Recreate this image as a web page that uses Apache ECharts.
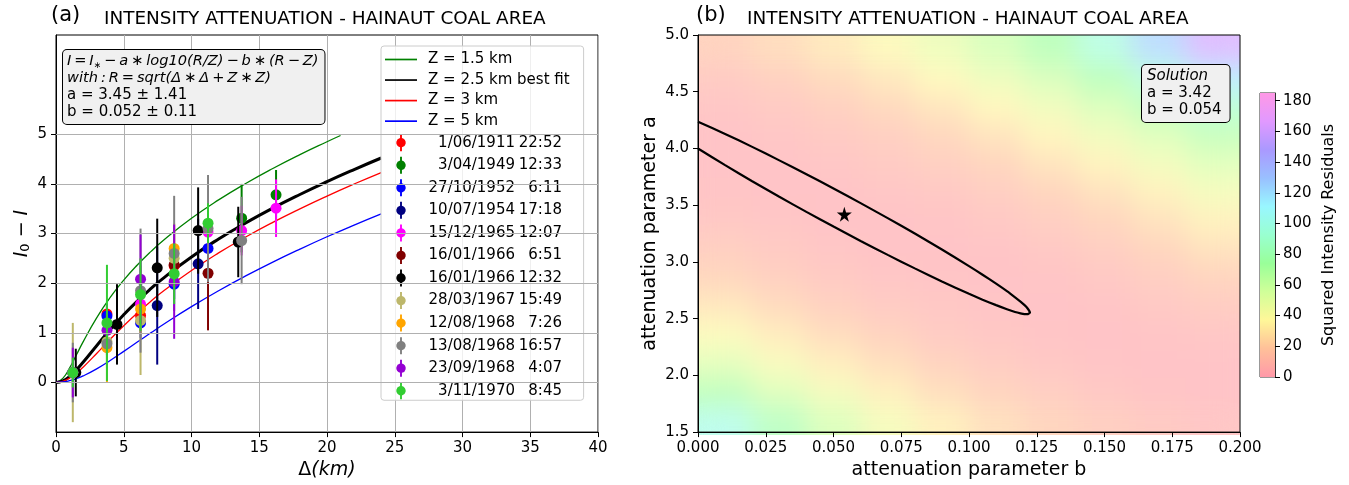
<!DOCTYPE html>
<html>
<head>
<meta charset="utf-8">
<script src="https://cdn.jsdelivr.net/npm/echarts@6/dist/echarts.min.js"></script>
<style>
  html, body { margin: 0; padding: 0; background: #ffffff; }
  #wrap { position: relative; width: 1349px; height: 485px; overflow: hidden; }
  #heat { position: absolute; filter: url(#smooth); }
  #main { position: absolute; left: 0; top: 0; width: 1349px; height: 485px; }
</style>
</head>
<body>
<!-- soft interpolation of the residual field, edges kept opaque -->
<svg width="0" height="0" style="position:absolute">
  <defs>
    <filter id="smooth" x="0" y="0" width="1" height="1" color-interpolation-filters="sRGB">
      <feGaussianBlur stdDeviation="13" edgeMode="duplicate"/>
      <feComponentTransfer><feFuncA type="table" tableValues="1 1"/></feComponentTransfer>
    </filter>
  </defs>
</svg>
<div id="wrap">
  <div id="heat"></div>
  <div id="main"></div>
</div>
<script>
const FONT = 'DejaVu Sans';

// ---------- panel (a): intensity decay with distance ----------
// model curves I0 - I (a = 3.45, b = 0.052) for four focal depths
const curveDist    = [0, 0.5, 1, 1.5, 2, 3, 4, 5, 6, 7, 8, 10, 12, 14, 16, 18, 20, 22, 24];
const curveDistZ15 = [0, 0.5, 1, 1.5, 2, 3, 4, 5, 6, 7, 8, 10, 12, 14, 16, 18, 20, 21];
const curveZ15 = [0, 0.083, 0.291, 0.552, 0.817, 1.302, 1.712, 2.062, 2.366, 2.636, 2.879, 3.307, 3.678, 4.009, 4.311, 4.590, 4.850, 4.975];
const curveZ25 = [0, 0.032, 0.121, 0.252, 0.407, 0.741, 1.067, 1.366, 1.640, 1.889, 2.118, 2.529, 2.890, 3.214, 3.512, 3.787, 4.045, 4.289, 4.522];
const curveZ3  = [0, 0.023, 0.087, 0.186, 0.307, 0.584, 0.869, 1.143, 1.399, 1.636, 1.856, 2.255, 2.610, 2.930, 3.225, 3.498, 3.755, 3.998, 4.229];
const curveZ5  = [0, 0.009, 0.035, 0.076, 0.131, 0.274, 0.444, 0.627, 0.814, 1.000, 1.182, 1.527, 1.848, 2.146, 2.424, 2.686, 2.935, 3.171, 3.397];
const curveNames  = ['Z = 1.5 km', 'Z = 2.5 km best fit', 'Z = 3 km', 'Z = 5 km'];
const curveColors = ['#008000', '#000000', '#ff0000', '#0000ff'];
const curveWidths = [1.3, 3, 1.3, 1.3];

// earthquakes
const eventDates = ['1/06/1911', '3/04/1949', '27/10/1952', '10/07/1954', '15/12/1965', '16/01/1966',
                    '16/01/1966', '28/03/1967', '12/08/1968', '13/08/1968', '23/09/1968', '3/11/1970'];
const eventTimes = ['22:52', '12:33', '6:11', '17:18', '12:07', '6:51',
                    '12:32', '15:49', '7:26', '16:57', '4:07', '8:45'];
const eventColors = ['#ff0000', '#008000', '#0000ff', '#000080', '#ff00ff', '#800000',
                     '#000000', '#bdb76b', '#ffa500', '#808080', '#9400d3', '#32cd32'];

// observations: [epicentral distance (km), I0 - I, error]
const obs1911  = [[3.76, 1.38, 0.2], [6.24, 1.35, 0.15], [8.72, 2.35, 0.2]];
const obs1949  = [[13.7, 3.31, 0.69], [16.24, 3.78, 0.5]];
const obs1952  = [[3.76, 1.34, 0.25], [6.24, 1.2, 0.3], [8.72, 1.98, 0.3], [11.22, 2.70, 0.3]];
const obs1954  = [[7.47, 1.55, 1.19], [10.49, 2.39, 0.91]];
const obs1965  = [[6.24, 1.58, 0.4], [11.22, 3.03, 0.5], [13.7, 3.06, 0.5], [16.24, 3.51, 0.58]];
const obs1966a = [[8.72, 2.37, 0.4], [11.22, 2.20, 1.15]];
const obs1966b = [[1.46, 0.2, 0.48], [4.5, 1.17, 0.81], [7.47, 2.31, 0.99], [10.49, 3.06, 0.87], [13.45, 2.83, 0.71]];
const obs1967  = [[1.24, 0.2, 1.0], [3.76, 0.82, 0.5], [6.24, 1.25, 1.1], [8.72, 2.5, 0.6]];
const obs1968a = [[3.76, 0.7, 0.7], [6.24, 1.48, 0.5], [8.72, 2.7, 0.5]];
const obs1968b = [[1.24, 0.2, 0.6], [3.76, 0.78, 0.5], [6.24, 1.85, 1.25], [8.72, 2.6, 1.16], [11.22, 3.1, 1.08], [13.7, 2.86, 0.88]];
const obs1968c = [[1.24, 0.2, 0.5], [3.76, 1.05, 0.5], [6.24, 2.08, 0.9], [8.72, 2.03, 1.15]];
const obs1970  = [[1.24, 0.2, 0.3], [3.76, 1.2, 1.17], [6.24, 1.77, 0.73], [8.72, 2.19, 0.61], [11.22, 3.21, 0.4]];
const eventObs = [obs1911, obs1949, obs1952, obs1954, obs1965, obs1966a,
                  obs1966b, obs1967, obs1968a, obs1968b, obs1968c, obs1970];

const fitA = '3.45', fitAErr = '1.41', fitB = '0.052', fitBErr = '0.11';
const yTickValues = [0, 1, 2, 3, 4, 5];

// ---------- panel (b): misfit surface ----------
const solA = 3.42, solB = 0.054;
// cell centres of the residual grid
const heatB = [0.01, 0.03, 0.05, 0.07, 0.09, 0.11, 0.13, 0.15, 0.17, 0.19];
const heatA = [1.625, 1.875, 2.125, 2.375, 2.625, 2.875, 3.125, 3.375, 3.625, 3.875, 4.125, 4.375, 4.625, 4.875];
// squared intensity residuals, one row per a value (bottom to top)
const heatRows = [
  [100, 78, 58, 43, 32, 24, 18, 13, 9, 6],
  [72, 56, 43, 32, 23, 17, 12, 8, 5, 4],
  [53, 41, 31, 23, 16, 11, 7, 5, 4, 4],
  [39, 30, 22, 16, 10, 7, 5, 4, 5, 6],
  [28, 21, 15, 10, 7, 5, 4, 5, 8, 11],
  [19, 14, 9, 6, 5, 4, 5, 8, 12, 17],
  [13, 9, 6, 4, 4, 5, 8, 12, 18, 25],
  [8, 6, 4, 4, 5, 8, 12, 18, 25, 33],
  [5, 4, 4, 6, 8, 12, 18, 25, 33, 43],
  [4, 4, 6, 9, 13, 18, 26, 34, 44, 55],
  [4, 6, 9, 13, 19, 26, 35, 45, 56, 68],
  [6, 9, 14, 20, 27, 36, 46, 58, 72, 88],
  [10, 15, 21, 28, 37, 47, 59, 74, 94, 117],
  [16, 22, 29, 38, 48, 60, 74, 96, 126, 160]
];
// confidence contour (b, a): upper branch out to the tip, lower branch back
const contourB = [0, 0.01, 0.02, 0.03, 0.04, 0.05, 0.06, 0.07, 0.08, 0.09, 0.1, 0.105, 0.11, 0.114, 0.117, 0.119, 0.1205, 0.1215, 0.1225,
                  0.1215, 0.1205, 0.119, 0.117, 0.114, 0.11, 0.105, 0.1, 0.09, 0.08, 0.07, 0.06, 0.05, 0.04, 0.03, 0.02, 0.01, 0];
const contourA = [4.236, 4.128, 4.014, 3.895, 3.773, 3.647, 3.518, 3.386, 3.250, 3.109, 2.963, 2.887, 2.808, 2.742, 2.688, 2.650, 2.619, 2.594, 2.554,
                  2.539, 2.540, 2.547, 2.559, 2.583, 2.619, 2.667, 2.719, 2.828, 2.943, 3.062, 3.185, 3.312, 3.441, 3.574, 3.711, 3.853, 4.000];

const cbarMax = 185;
const cbarTicks = [0, 20, 40, 60, 80, 100, 120, 140, 160, 180];
// rainbow ramp, pale for the colour bar and paler for the field
const cbarColors = ['#ff99a9', '#ffc099', '#fff799', '#d0ff99', '#99ff99', '#99ffd0', '#99f7ff', '#99c0ff', '#aa99ff', '#e199ff', '#ff99e6'];
const heatColors = ['#ffbfc9', '#ffd7bf', '#fffabf', '#e2ffbf', '#bfffbf', '#bfffe2', '#bffaff', '#bfd7ff', '#c9bfff', '#ecbfff', '#ffbfef'];

// ---------- layout ----------
const gridA = { left: 56, top: 35, width: 542, height: 400 };
const gridB = { left: 698, top: 35, width: 542, height: 400 };
const gridC = { left: 1260, top: 93, width: 15, height: 284 };

// ---------- residual field (separate layer under panel b) ----------
const heatEl = document.getElementById('heat');
Object.assign(heatEl.style, {
  left: gridB.left + 'px', top: gridB.top + 'px',
  width: gridB.width + 'px', height: gridB.height + 'px'
});
const heatData = [];
heatRows.forEach((row, j) => row.forEach((v, i) => heatData.push([i, j, v])));
const heatChart = echarts.init(heatEl, null, { renderer: 'canvas' });
heatChart.setOption({
  animation: false,
  grid: { left: 0, right: 0, top: 0, bottom: 0 },
  xAxis: { type: 'category', data: heatB, show: false },
  yAxis: { type: 'category', data: heatA, show: false },
  visualMap: { show: false, min: 0, max: cbarMax, inRange: { color: heatColors } },
  series: [{ type: 'heatmap', data: heatData, itemStyle: { borderWidth: 0 } }]
});

// ---------- main chart ----------
const chart = echarts.init(document.getElementById('main'), null, { renderer: 'canvas' });

const txt = { fontFamily: FONT, color: '#000' };
const errIcon = 'path://M5,0H7V4.1A5,5 0 0 1 7,13.9V18H5V13.9A5,5 0 0 1 5,4.1Z';
const lineIcon = 'path://M0,0H32V1.7H0Z';
const eventNames = eventDates.map((d, k) => d + ' ' + eventTimes[k]);
const TS = '\u2009';   // thin space used in the formula lines

function drawErrorBar(params, api) {
  const x = api.value(0), y = api.value(1), e = api.value(2);
  const top = api.coord([x, y + e]);
  const bot = api.coord([x, y - e]);
  const c = api.coord([x, y]);
  const color = api.visual('color');
  return {
    type: 'group',
    children: [
      { type: 'line', shape: { x1: top[0], y1: top[1], x2: bot[0], y2: bot[1] },
        style: { stroke: color, lineWidth: 2 } },
      { type: 'circle', shape: { cx: c[0], cy: c[1], r: 5.5 }, style: { fill: color } }
    ]
  };
}

const curveSeries = [curveZ15, curveZ25, curveZ3, curveZ5].map((vals, k) => {
  const xs = k === 0 ? curveDistZ15 : curveDist;
  return {
    type: 'line', name: curveNames[k], xAxisIndex: 0, yAxisIndex: 0,
    data: vals.map((v, i) => [xs[i], v]),
    smooth: true, symbol: 'none', z: 3,
    lineStyle: { color: curveColors[k], width: curveWidths[k] },
    itemStyle: { color: curveColors[k] }
  };
});

const eventSeries = eventObs.map((obs, k) => ({
  type: 'custom', name: eventNames[k], xAxisIndex: 0, yAxisIndex: 0,
  data: obs, encode: { x: 0, y: 1 }, z: 4,
  itemStyle: { color: eventColors[k] },
  renderItem: drawErrorBar
}));

const axisBase = {
  axisLine: { show: true, onZero: false, lineStyle: { color: '#000', width: 1 } },
  axisTick: { show: true, inside: false, length: 5, lineStyle: { color: '#000' } },
  axisLabel: Object.assign({ fontSize: 15, margin: 9 }, txt),
  splitLine: { show: false }
};

const formulaLine1 = ['I', '=', 'I'].join(TS) + '{sub|∗}{m|' + TS +
  ['−', 'a', '∗', 'log10(R/Z)', '−', 'b', '∗', '(R', '−', 'Z)'].join(TS) + '}';
const formulaLine2 = ['with', ':', 'R', '=', 'sqrt(Δ', '∗', 'Δ', '+', 'Z', '∗', 'Z)'].join(TS);

const option = {
  animation: false,
  title: [
    { text: '(a)', left: 51, top: 5, padding: 0, textStyle: Object.assign({ fontSize: 21, fontWeight: 'normal' }, txt) },
    { text: 'INTENSITY ATTENUATION - HAINAUT COAL AREA', left: 104, top: 10, padding: 0,
      textStyle: Object.assign({ fontSize: 18.4, fontWeight: 'normal' }, txt) },
    { text: '(b)', left: 696, top: 5, padding: 0, textStyle: Object.assign({ fontSize: 21, fontWeight: 'normal' }, txt) },
    { text: 'INTENSITY ATTENUATION - HAINAUT COAL AREA', left: 747, top: 10, padding: 0,
      textStyle: Object.assign({ fontSize: 18.4, fontWeight: 'normal' }, txt) }
  ],
  grid: [
    Object.assign({ show: true, borderColor: '#000', borderWidth: 1, backgroundColor: 'transparent' }, gridA),
    Object.assign({ show: true, borderColor: '#000', borderWidth: 1, backgroundColor: 'transparent' }, gridB),
    Object.assign({ show: true, borderColor: '#333', borderWidth: 1, backgroundColor: 'transparent' }, gridC)
  ],
  xAxis: [
    Object.assign({}, axisBase, {
      type: 'value', gridIndex: 0, min: 0, max: 40, interval: 5,
      splitLine: { show: true, lineStyle: { color: '#b0b0b0', width: 1 } },
      name: '{g|Δ}{i|(km)}', nameLocation: 'middle', nameGap: 22,
      nameTextStyle: { rich: {
        g: { fontFamily: FONT, fontSize: 19, color: '#000' },
        i: { fontFamily: FONT, fontSize: 19, fontStyle: 'italic', color: '#000' } } }
    }),
    Object.assign({}, axisBase, {
      type: 'value', gridIndex: 1, min: 0, max: 0.2, interval: 0.025,
      axisLabel: Object.assign({}, axisBase.axisLabel, { formatter: v => v.toFixed(3) }),
      name: 'attenuation parameter b', nameLocation: 'middle', nameGap: 22,
      nameTextStyle: Object.assign({ fontSize: 19 }, txt)
    }),
    { type: 'category', gridIndex: 2, data: ['bar'], show: false }
  ],
  yAxis: [
    Object.assign({}, axisBase, {
      type: 'value', gridIndex: 0, min: -1, max: 7, interval: 1,
      axisTick: { show: true, length: 5, lineStyle: { color: '#000' }, customValues: yTickValues },
      axisLabel: Object.assign({}, axisBase.axisLabel, {
        customValues: yTickValues,
        formatter: v => (yTickValues.indexOf(v) >= 0 ? String(v) : '')
      }),
      name: '{i|I}{s|0}{o| − }{i|I}', nameLocation: 'middle', nameGap: 24, nameRotate: 90,
      nameTextStyle: { rich: {
        i: { fontFamily: FONT, fontSize: 19, fontStyle: 'italic', color: '#000' },
        s: { fontFamily: FONT, fontSize: 13, color: '#000', verticalAlign: 'bottom', padding: [6, 0, 0, 0] },
        o: { fontFamily: FONT, fontSize: 19, color: '#000' } } }
    }),
    Object.assign({}, axisBase, {
      type: 'value', gridIndex: 1, min: 1.5, max: 5.0, interval: 0.5,
      axisLabel: Object.assign({}, axisBase.axisLabel, { formatter: v => v.toFixed(1) }),
      name: 'attenuation parameter a', nameLocation: 'middle', nameGap: 38, nameRotate: 90,
      nameTextStyle: Object.assign({ fontSize: 19 }, txt)
    }),
    Object.assign({}, axisBase, {
      type: 'value', gridIndex: 2, min: 0, max: cbarMax, position: 'right',
      axisLine: { show: true, onZero: false, lineStyle: { color: '#333', width: 1 } },
      axisTick: { show: true, length: 5, lineStyle: { color: '#000' }, customValues: cbarTicks },
      axisLabel: Object.assign({}, axisBase.axisLabel, { customValues: cbarTicks, margin: 8 }),
      name: 'Squared Intensity Residuals', nameLocation: 'middle', nameGap: 46, nameRotate: 90,
      nameTextStyle: Object.assign({ fontSize: 16 }, txt)
    })
  ],
  legend: {
    orient: 'vertical', left: 381, top: 46, selectedMode: false,
    padding: [6, 14, 1, 4], itemGap: 5.55, itemWidth: 32, itemHeight: 17,
    backgroundColor: 'rgba(255,255,255,0.8)', borderColor: '#cccccc', borderWidth: 1, borderRadius: 3,
    data: curveNames.map(n => ({ name: n, icon: lineIcon })).concat(eventNames.map(n => ({ name: n, icon: errIcon }))),
    formatter: name => {
      const k = eventNames.indexOf(name);
      return k >= 0 ? '{d|' + eventDates[k] + '}{t|' + eventTimes[k] + '}' : '{z|' + name + '}';
    },
    textStyle: {
      fontFamily: FONT, fontSize: 15, color: '#000', padding: [0, 0, 0, 6],
      rich: {
        z: { fontFamily: FONT, fontSize: 15, color: '#000' },
        d: { fontFamily: FONT, fontSize: 15, color: '#000', width: 87, align: 'right' },
        t: { fontFamily: FONT, fontSize: 15, color: '#000', width: 47, align: 'right' }
      }
    }
  },
  graphic: [
    {
      type: 'text', left: 62, top: 49, z: 10,
      style: {
        text: [
          '{m|' + formulaLine1,
          '{m|' + formulaLine2 + '}',
          '{n|a = ' + fitA + ' ± ' + fitAErr + '}',
          '{n|b = ' + fitB + ' ± ' + fitBErr + '}'
        ].join('\n').replace('{m|I' + TS + '=' + TS + 'I{sub', '{m|I' + TS + '=' + TS + 'I}{sub'),
        rich: {
          m: { fontFamily: FONT, fontSize: 14.6, fontStyle: 'italic', color: '#000', lineHeight: 17 },
          sub: { fontFamily: FONT, fontSize: 9, color: '#000', lineHeight: 17, verticalAlign: 'bottom' },
          n: { fontFamily: FONT, fontSize: 15, color: '#000', lineHeight: 17 }
        },
        backgroundColor: '#f0f0f0', borderColor: '#000', borderWidth: 1, borderRadius: 4,
        padding: [3, 6, 3, 4]
      }
    },
    {
      type: 'text', left: 1141, top: 64, z: 10,
      style: {
        text: '{it|Solution}\n{n|a = ' + solA.toFixed(2) + '}\n{n|b = ' + solB.toFixed(3) + '}',
        rich: {
          it: { fontFamily: FONT, fontSize: 15, fontStyle: 'italic', color: '#000', lineHeight: 17 },
          n: { fontFamily: FONT, fontSize: 15, color: '#000', lineHeight: 17 }
        },
        backgroundColor: '#f0f0f0', borderColor: '#000', borderWidth: 1, borderRadius: 4,
        padding: [3, 8, 3, 5]
      }
    }
  ],
  series: [
    // horizontal grid lines at the labelled levels only
    {
      type: 'line', xAxisIndex: 0, yAxisIndex: 0, data: [], z: 1, silent: true,
      markLine: {
        silent: true, symbol: ['none', 'none'], label: { show: false }, animation: false,
        lineStyle: { color: '#b0b0b0', width: 1, type: 'solid' },
        data: yTickValues.map(v => ({ yAxis: v }))
      }
    }
  ].concat(curveSeries, eventSeries, [
    {
      type: 'line', xAxisIndex: 1, yAxisIndex: 1, z: 3, silent: true,
      data: contourB.map((b, i) => [b, contourA[i]]),
      smooth: 0.2, symbol: 'none',
      lineStyle: { color: '#000', width: 2.2 }
    },
    {
      type: 'scatter', xAxisIndex: 1, yAxisIndex: 1, z: 4,
      data: [[solB, solA]],
      symbol: 'path://M50,0L61,35L98,35L68,57L79,91L50,70L21,91L32,57L2,35L39,35Z',
      symbolSize: 15, itemStyle: { color: '#000', opacity: 1 }
    },
    {
      type: 'bar', xAxisIndex: 2, yAxisIndex: 2, data: [cbarMax], barWidth: '100%', silent: true,
      itemStyle: {
        color: new echarts.graphic.LinearGradient(0, 1, 0, 0,
          cbarColors.map((c, i) => ({ offset: i / (cbarColors.length - 1), color: c })))
      }
    }
  ])
};

chart.setOption(option);
</script>
</body>
</html>
